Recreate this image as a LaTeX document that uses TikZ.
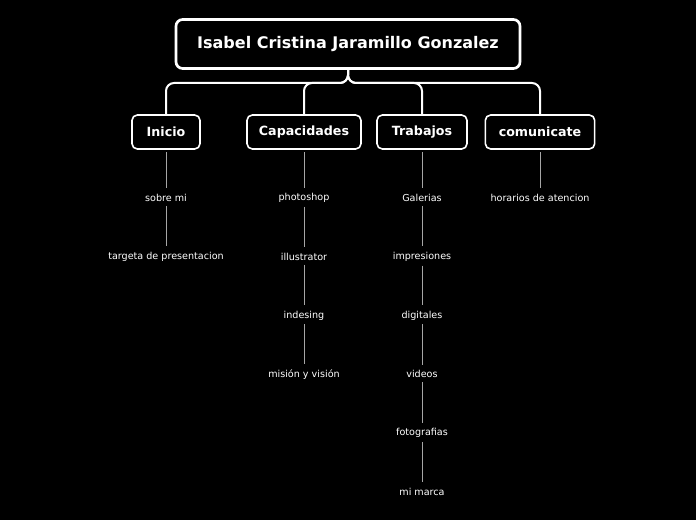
\documentclass[tikz,border=0pt]{standalone}
\usepackage{fontspec}
\setmainfont{DejaVu Sans}
\usetikzlibrary{calc}
\tikzset{%
  rootbox/.style={draw=white,line width=2pt,rounded corners=5pt,fill=black,text=white,
    font=\bfseries\fontsize{12}{14}\selectfont,minimum width=#1,minimum height=36.75pt},
  topic/.style={draw=white,line width=1.2pt,rounded corners=4pt,fill=black,text=white,
    font=\bfseries\fontsize{9.5}{11}\selectfont,minimum width=#1,minimum height=25.5pt},
  leaf/.style={text=white,font=\fontsize{7.2}{9}\selectfont,inner sep=1pt},
  branch/.style={draw=white,line width=1.5pt,rounded corners=6pt},
  twig/.style={draw=gray!70,line width=0.7pt}
}
\begin{document}
\begin{tikzpicture}[x=0.75pt,y=-0.75pt]
  \fill[black] (0,0) rectangle (696,520);
  \useasboundingbox (0,0) rectangle (696,520);
  % Root and topics
  \node[rootbox=258pt] (root) at (348,44) {Isabel Cristina Jaramillo Gonzalez};
  \node[topic=51pt] (t0) at (166,132) {Inicio};
  \node[topic=85.5pt] (t1) at (304,132) {Capacidades};
  \node[topic=67.5pt] (t2) at (422,132) {Trabajos};
  \node[topic=82pt] (t3) at (540,132) {comunicate};
  \coordinate (bar) at (348,83);
  \foreach \t in {t0,t1,t2,t3}
    \draw[branch] (root.south) -- (bar) -| (\t.north);
  % Leaves
  \foreach \t/\list in {t0/{sobre mi,targeta de presentacion},
      t1/{photoshop,illustrator,indesing,misión y visión},
      t2/{Galerias,impresiones,digitales,videos,fotografias,mi marca},
      t3/{horarios de atencion}}{
    \coordinate (prev) at (\t.south);
    \foreach \l [count=\i] in \list {
      \node[leaf] (\t-\i) at ($(\t.center)+(0,{7+58.8*\i})$) {\l};
      \draw[twig] ([yshift=-2pt]prev) -- ([yshift=3pt]\t-\i.north);
      \coordinate (prev) at (\t-\i.south);
    }
  }
\end{tikzpicture}
\end{document}
